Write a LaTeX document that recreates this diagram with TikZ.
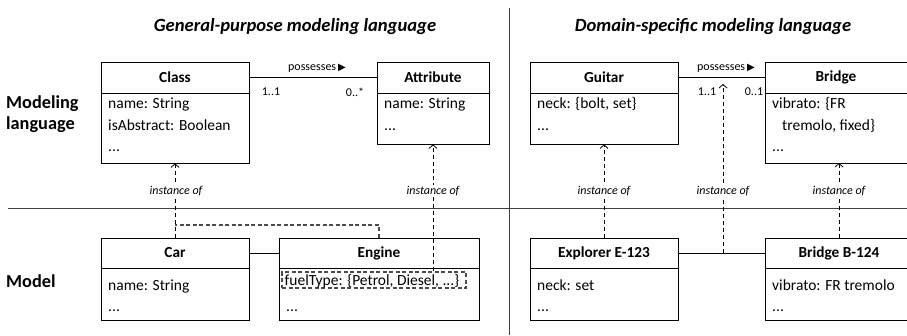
\documentclass[tikz,border=0pt]{standalone}
\usepackage{fontspec}
\setmainfont{Carlito}
\newfontfamily\symfont{DejaVu Sans}
\usetikzlibrary{arrows.meta}
\tikzset{
  umlbox/.style={draw, line width=0.8pt, inner sep=0pt},
  divline/.style={line width=0.8pt},
  hdr/.style={font=\fontsize{15.3}{18}\selectfont\bfseries, inner sep=0pt},
  bodytxt/.style={font=\fontsize{15.5}{18}\selectfont, inner sep=0pt, anchor=base west},
  small/.style={font=\fontsize{12}{14}\selectfont, inner sep=0pt},
  instlbl/.style={font=\fontsize{12}{14}\selectfont\itshape, fill=white, inner sep=1.5pt},
  title/.style={font=\fontsize{18.6}{21}\selectfont\bfseries\itshape, inner sep=0pt},
  rowlbl/.style={font=\fontsize{18.3}{22}\selectfont\bfseries, inner sep=0pt, anchor=west, align=left},
  assoc/.style={line width=0.8pt},
  inst/.style={line width=0.8pt, dash pattern=on 4pt off 3pt, -{Straight Barb[length=3.5pt,width=8pt]}},
  gdash/.style={line width=1.1pt, draw=black!70, dash pattern=on 4pt off 2.5pt},
  sep/.style={line width=1pt, draw=black!75},
}
\begin{document}
\begin{tikzpicture}[x=1pt,y=-1pt]
\clip (0,0) rectangle (907,335);
% separators
\coordinate (vt) at (509.5,8);
\coordinate (vb) at (509.5,335);
\coordinate (hl) at (8,208);
\coordinate (hr) at (907,208);
\draw[sep] (hl) -- (hr);
\draw[sep] (vt) -- (vb);
% titles and row labels
\node[title] (t1) at (295,27) {General-purpose modeling language};
\node[title] (t2) at (713,27) {Domain-specific modeling language};
\node[rowlbl] (r1) at (6,114) {Modeling\\[-1pt]language};
\node[rowlbl] (r2) at (6,281) {Model};
% boxes
\node[umlbox, minimum width=148pt, minimum height=101pt] (class) at (175,112.5) {};
\node[umlbox, minimum width=112pt, minimum height=82pt] (attr) at (433,103) {};
\node[umlbox, minimum width=148pt, minimum height=82pt] (guitar) at (604,103) {};
\node[umlbox, minimum width=150pt, minimum height=101pt] (bridge) at (840,112.5) {};
\node[umlbox, minimum width=148pt, minimum height=82pt] (car) at (175,279) {};
\node[umlbox, minimum width=200pt, minimum height=82pt] (engine) at (379,279) {};
\node[umlbox, minimum width=148pt, minimum height=82pt] (expl) at (604,279) {};
\node[umlbox, minimum width=150pt, minimum height=82pt] (bridgeb) at (840,279) {};
% dividers
\foreach \b in {class,attr,guitar,bridge} {\draw[divline] (\b.west |- 0,93) -- (\b.east |- 0,93);}
\foreach \b in {car,engine,expl,bridgeb} {\draw[divline] (\b.west |- 0,268) -- (\b.east |- 0,268);}
% headers
\node[hdr] (hclass) at (class.center |- 0,77.5) {Class};
\node[hdr] (hattr) at (attr.center |- 0,77.5) {Attribute};
\node[hdr] (hguitar) at (guitar.center |- 0,77.5) {Guitar};
\node[hdr] (hbridge) at (836,77.5) {Bridge};
\node[hdr] (hcar) at (car.center |- 0,253) {Car};
\node[hdr] (hengine) at (engine.center |- 0,253) {Engine};
\node[hdr] (hexpl) at (expl.center |- 0,253) {Explorer E-123};
\node[hdr] (hbridgeb) at (839,253) {Bridge B-124};
% bodies
\node[bodytxt] (c1) at (108,108) {name: String};
\node[bodytxt] (c2) at (108,130) {isAbstract: Boolean};
\node[bodytxt] (c3) at (108,151) {...};
\node[bodytxt] (a1) at (384,108) {name: String};
\node[bodytxt] (a2) at (384,130) {...};
\node[bodytxt] (g1) at (537,108) {neck: \{bolt, set\}};
\node[bodytxt] (g2) at (537,130) {...};
\node[bodytxt] (b1) at (772,108) {vibrato: \{FR};
\node[bodytxt] (b2) at (782,130) {tremolo, fixed\}};
\node[bodytxt] (b3) at (772,151) {...};
\node[bodytxt] (k1) at (108,290) {name: String};
\node[bodytxt] (k2) at (108,311) {...};
\node[draw=black!70, line width=1.1pt, dash pattern=on 4pt off 2.5pt, minimum width=184pt, minimum height=16pt, inner sep=0pt] (fuel) at (374,280) {};
\node[bodytxt] (e1) at (284.5,285.5) {fuelType: \{Petrol, Diesel, ...\}};
\node[bodytxt] (e2) at (286,311) {...};
\node[bodytxt] (x1) at (537,290) {neck: set};
\node[bodytxt] (x2) at (537,311) {...};
\node[bodytxt] (y1) at (772,290) {vibrato: FR tremolo};
\node[bodytxt] (y2) at (772,311) {...};
% associations
\draw[assoc] (class.east |- 0,77) -- (attr.west |- 0,77);
\draw[assoc] (guitar.east |- 0,77) -- (bridge.west |- 0,77);
\draw[assoc] (car.east |- 0,253) -- (engine.west |- 0,253);
\draw[assoc] (expl.east |- 0,253) -- (bridgeb.west |- 0,253);
\node[small] (p1) at (317,68) {possesses\,{\symfont\fontsize{10}{12}\selectfont ▶}};
\node[small] (p2) at (726,68) {possesses\,{\symfont\fontsize{10}{12}\selectfont ▶}};
\node[small] (m1) at (271,92) {1..1};
\node[small] (m2) at (355,92) {0..*};
\node[small] (m3) at (707,92) {1..1};
\node[small] (m4) at (754,92) {0..1};
% instance-of links
\coordinate (cj) at (175,225);
\coordinate (midb) at (723,253);
\coordinate (midt) at (723,84);
\coordinate (bt) at (839,163);
\coordinate (bb) at (839,238);
\draw[gdash] (engine.north) |- (cj);
\draw[inst] (car.north) -- (class.south);
\draw[inst] (attr.south |- fuel.north) -- (attr.south);
\draw[inst] (expl.north) -- (guitar.south);
\draw[inst] (bb) -- (bt);
\draw[inst] (midb) -- (midt);
\node[instlbl] (i1) at (176,191) {instance of};
\node[instlbl] (i2) at (433,191) {instance of};
\node[instlbl] (i3) at (604,191) {instance of};
\node[instlbl] (i4) at (723,191) {instance of};
\node[instlbl] (i5) at (839,191) {instance of};
\end{tikzpicture}
\end{document}
